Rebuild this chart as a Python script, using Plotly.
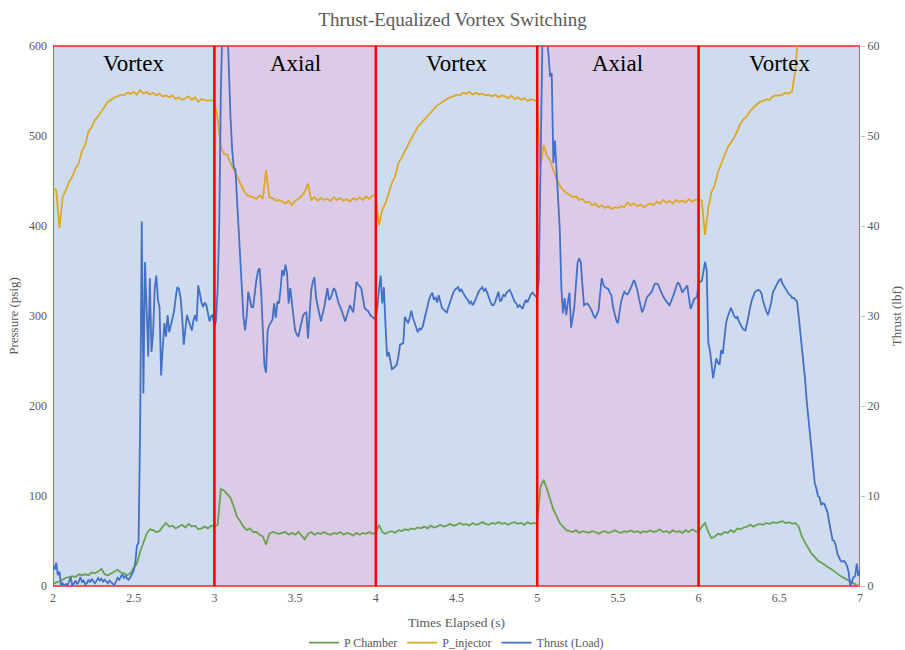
import numpy as np
import plotly.graph_objects as go

# Time grids (s)
t_p = np.round(np.linspace(2.0, 7.0, 251), 2)   # pressure sampling, 0.02 s
t_f = np.round(np.linspace(2.0, 7.0, 501), 2)   # thrust sampling, 0.01 s

p_chamber = [
    2, 4, 5, 7, 9,   10, 11, 10, 13, 12,   13, 12, 15, 14, 16,   19, 13, 12, 14, 16,
    18, 15, 14, 12, 14,   20, 25, 38, 48, 58,   63, 62, 60, 61, 66,   70, 66, 67, 64, 66,
    68, 65, 69, 66, 67,   63, 64, 66, 64, 67,
    66, 68, 108, 106, 102,   98, 88, 77, 72, 66,   62, 64, 60, 60, 57,   55, 46, 58, 60, 59,
    58, 59, 60, 57, 59,   57, 60, 56, 52, 58,   60, 57, 59, 58, 60,   58, 57, 59, 58, 60,
    57, 59, 58, 56, 59,   57, 59, 58, 60, 58,
    59, 68, 60, 58, 60,   61, 59, 62, 61, 63,   62, 64, 63, 65, 64,   66, 64, 67, 65, 66,
    68, 66, 67, 69, 67,   68, 70, 68, 69, 67,   70, 68, 69, 71, 69,   68, 70, 69, 71, 69,
    70, 68, 70, 71, 69,   70, 68, 71, 69, 70,
    69, 110, 118, 108, 95,   85, 78, 70, 66, 62,   61, 60, 62, 59, 61,   60, 59, 61, 60, 58,
    60, 61, 59, 60, 62,   60, 59, 61, 60, 62,   60, 61, 59, 61, 60,   62, 60, 61, 63, 60,
    61, 59, 62, 60, 61,   59, 62, 60, 63, 61,
    60, 66, 70, 60, 53,   55, 58, 57, 60, 59,   62, 60, 64, 63, 65,   66, 68, 66, 68, 69,
    68, 70, 69, 71, 70,   71, 72, 70, 71, 69,   70, 66, 55, 48, 42,   36, 32, 28, 26, 23,
    21, 19, 16, 14, 11,   9, 7, 5, 3, 1,
    0,
]

p_injector = [
    442, 440, 398, 432, 440,   449, 455, 464, 470, 484,   490, 505, 510, 518, 522,   527, 533, 538, 540, 543,
    544, 546, 545, 548, 547,   549, 546, 551, 547, 549,   546, 548, 545, 547, 544,   545, 543, 545, 541, 543,
    540, 542, 544, 540, 543,   538, 541, 540, 539, 540,
    538, 520, 488, 480, 479,   470, 462, 455, 448, 440,   435, 433, 432, 430, 434,   430, 462, 432, 431, 428,
    429, 427, 425, 428, 423,   428, 430, 433, 438, 447,   429, 432, 428, 431, 429,   430, 428, 432, 429, 431,
    428, 430, 427, 431, 429,   432, 429, 433, 430, 434,
    433, 401, 418, 425, 438,   448, 455, 470, 476, 484,   490, 497, 503, 510, 514,   518, 523, 527, 530, 534,
    536, 539, 541, 543, 544,   546, 545, 548, 547, 549,   546, 548, 546, 547, 545,   546, 544, 546, 543, 545,
    544, 542, 545, 541, 543,   540, 542, 539, 541, 540,
    538, 466, 490, 478, 473,   462, 452, 445, 440, 437,   434, 432, 433, 429, 430,   426, 427, 423, 425, 421,
    423, 420, 422, 419, 421,   420, 422, 421, 426, 423,   425, 422, 424, 421, 423,   425, 423, 427, 425, 429,
    426, 428, 425, 429, 427,   428, 426, 430, 427, 429,
    430, 428, 390, 420, 438,   445, 460, 470, 478, 487,   492, 498, 506, 514, 519,   522, 528, 532, 535, 538,
    539, 541, 540, 544, 545,   545, 546, 548, 547, 550,   575, 620, 660, None, None,   None, None, None, None, None,
    None, None, None, None, None,   None, None, None, None, None,
    None,
]

thrust = [
    2.3, 1.8, 2.6, 1.2, 1.6, 0.1, 0.3, 0.0, 0.2, 0.1,
    0.5, 1.0, 0.0, 0.3, 0.6, 0.2, 0.5, 1.0, 0.4, 0.6,
    0.2, 0.3, 0.7, 0.4, 0.8, 0.5, 0.3, 0.6, 0.9, 0.6,
    0.8, 0.5, 0.7, 0.5, 0.3, 0.6, 0.4, 0.2, 0.1, 0.5,
    0.9, 0.7, 1.1, 1.3, 0.9, 1.1, 0.8, 0.7, 1.0, 1.3,
    1.7, 2.6, 4.5, 4.8, 18.0, 40.5, 21.4, 36.0, 30.5, 25.5,
    34.2, 26.0, 28.0, 33.0, 34.5, 31.8, 31.0, 23.4, 26.5, 29.2,
    27.7, 30.1, 28.2, 29.0, 29.9, 30.5, 32.0, 33.2, 33.0, 32.1,
    30.0, 26.8, 28.5, 30.1, 29.5, 28.8, 28.4, 29.5, 30.1, 29.4,
    33.4, 32.5, 31.5, 31.0, 31.5, 31.2, 30.3, 29.4, 30.0, 30.1,
    28.7, 29.5, 33.0, 40.0, 55.0, 65.0, 70.0, 68.0, 62.0, 57.0,
    52.0, 48.5, 46.5, 46.3, 43.0, 39.5, 35.5, 32.9, 29.9, 28.4,
    30.0, 32.7, 31.8, 31.0, 31.0, 32.6, 34.0, 35.0, 35.3, 32.6,
    28.0, 24.5, 23.7, 28.4, 29.0, 29.3, 29.6, 31.4, 29.8, 31.6,
    31.4, 33.0, 35.1, 34.5, 35.7, 34.8, 31.4, 33.1, 31.5, 29.8,
    28.4, 28.0, 27.7, 28.5, 29.5, 30.1, 30.3, 30.4, 27.5, 30.0,
    32.9, 33.8, 34.3, 32.0, 31.0, 30.0, 29.4, 30.2, 30.9, 32.0,
    33.1, 31.8, 32.0, 32.5, 33.1, 32.8, 32.0, 31.4, 31.0, 30.6,
    30.0, 29.4, 30.1, 30.6, 31.2, 30.8, 30.4, 32.0, 33.8, 33.5,
    33.3, 33.1, 32.0, 30.9, 30.7, 30.6, 30.3, 30.0, 29.9, 29.7,
    29.8, 31.0, 33.0, 34.5, 31.4, 33.2, 29.0, 25.5, 26.0, 25.0,
    24.1, 24.2, 24.4, 24.6, 25.5, 26.8, 26.9, 27.0, 29.9, 29.5,
    29.2, 29.8, 30.6, 29.8, 29.2, 28.6, 28.2, 28.6, 28.5, 28.8,
    29.6, 30.4, 31.0, 31.8, 32.3, 32.6, 31.8, 32.1, 31.5, 32.3,
    31.6, 30.9, 30.7, 30.5, 30.4, 31.0, 31.6, 32.1, 32.6, 32.9,
    33.1, 33.2, 32.7, 33.0, 32.6, 32.2, 32.0, 31.8, 31.4, 31.6,
    31.2, 31.5, 32.0, 32.4, 32.8, 33.0, 33.2, 32.8, 33.0, 32.6,
    32.0, 31.6, 31.2, 31.2, 31.6, 32.2, 32.7, 31.6, 31.8, 32.4,
    32.2, 32.6, 32.8, 32.9, 32.5, 32.0, 31.6, 31.4, 31.0, 31.2,
    31.0, 30.8, 31.4, 31.8, 31.5, 32.0, 32.4, 32.6, 32.4, 32.1,
    32.0, 34.0, 45.0, 62.0, 70.0, 66.0, 61.0, 59.0, 56.6, 57.0,
    47.0, 49.5, 46.0, 43.0, 39.5, 33.0, 30.3, 32.0, 30.1, 31.5,
    32.6, 28.7, 30.0, 31.0, 33.5, 35.9, 36.4, 36.0, 33.5, 31.2,
    31.3, 31.4, 31.2, 30.9, 30.5, 30.0, 29.8, 30.2, 30.6, 32.5,
    34.2, 33.5, 33.2, 33.1, 33.0, 32.6, 32.3, 31.0, 30.1, 29.5,
    29.2, 30.5, 31.6, 32.2, 32.7, 32.5, 32.4, 32.7, 33.2, 33.7,
    34.0, 33.5, 32.9, 32.0, 31.0, 30.4, 30.8, 31.5, 32.1, 32.3,
    32.5, 32.7, 33.2, 33.6, 33.6, 33.5, 33.0, 32.5, 32.2, 31.9,
    31.6, 31.4, 31.2, 31.6, 32.1, 32.6, 33.2, 33.7, 33.6, 33.0,
    32.6, 32.9, 33.2, 33.4, 32.0, 30.8, 31.2, 31.8, 32.0, 32.1,
    33.8, 33.8, 33.9, 35.0, 36.0, 35.1, 27.0, 26.2, 24.5, 23.1,
    24.2, 25.3, 24.8, 24.6, 26.2, 25.8, 27.5, 29.2, 29.9, 30.4,
    30.9, 30.5, 30.0, 29.8, 29.9, 29.4, 29.0, 28.7, 28.5, 28.4,
    29.2, 30.3, 31.0, 31.8, 32.3, 32.7, 32.8, 32.9, 32.8, 32.5,
    31.6, 31.0, 30.5, 30.1, 30.8, 31.5, 32.6, 33.0, 33.5, 33.7,
    34.0, 34.1, 33.6, 33.3, 33.0, 32.7, 32.4, 32.3, 32.0, 32.0,
    31.8, 31.6, 30.0, 28.4, 26.6, 24.8, 22.9, 20.5, 18.4, 16.7,
    15.1, 13.2, 11.4, 10.8, 10.0, 9.8, 9.0, 9.2, 9.1, 8.6,
    8.1, 7.0, 5.8, 5.1, 5.0, 4.5, 3.6, 3.1, 2.8, 2.7,
    2.8, 2.6, 2.2, 1.5, 0.0, 0.5, 1.0, 1.1, 2.5, 1.1,
    1.8,
]

assert len(p_chamber) == len(t_p), len(p_chamber)
assert len(p_injector) == len(t_p), len(p_injector)
assert len(thrust) == len(t_f), len(thrust)

# Mode regions
region_names = ["Vortex", "Axial", "Vortex", "Axial", "Vortex"]
region_starts = [2, 3, 4, 5, 6]
region_ends = [3, 4, 5, 6, 7]
region_colors = {"Vortex": "#cfdcef", "Axial": "#dccbe6"}
switch_times = [3, 4, 5, 6]

FONT = "Liberation Serif, Times New Roman, serif"
GREY = "#595959"

fig = go.Figure()
fig.add_trace(go.Scatter(x=t_p, y=p_chamber, name="P Chamber", mode="lines",
                         line=dict(color="#6aa150", width=1.8)))
fig.add_trace(go.Scatter(x=t_p, y=p_injector, name="P_injector", mode="lines",
                         line=dict(color="#dca82a", width=1.8)))
fig.add_trace(go.Scatter(x=t_f, y=thrust, name="Thrust (Load)", mode="lines", yaxis="y2",
                         line=dict(color="#4470c6", width=1.8)))

for name, x0, x1 in zip(region_names, region_starts, region_ends):
    fig.add_shape(type="rect", xref="x", yref="paper", x0=x0, x1=x1, y0=0, y1=1,
                  fillcolor=region_colors[name], line=dict(color="#ff2020", width=1.5),
                  layer="below")
    fig.add_annotation(x=(x0 + x1) / 2, y=0.968, xref="x", yref="paper", text=name,
                       showarrow=False, font=dict(family=FONT, size=23, color="#000000"),
                       yanchor="middle")
for xs in switch_times:
    fig.add_shape(type="line", xref="x", yref="paper", x0=xs, x1=xs, y0=0, y1=1,
                  line=dict(color="#ff0000", width=2.5), layer="above")

fig.update_layout(
    width=905, height=650,
    margin=dict(l=53, r=45, t=46, b=64, autoexpand=False),
    paper_bgcolor="white", plot_bgcolor="white",
    title=dict(text="Thrust-Equalized Vortex Switching", x=0.5, xanchor="center",
               y=1 - 19 / 650, yanchor="middle",
               font=dict(family=FONT, size=19, color=GREY)),
    font=dict(family=FONT, size=12, color=GREY),
    showlegend=True,
    legend=dict(orientation="h", x=0.5, xanchor="center", y=-0.105, yanchor="middle",
                font=dict(family=FONT, size=12, color=GREY), bgcolor="rgba(0,0,0,0)"),
    xaxis=dict(range=[2, 7], dtick=0.5, tick0=2, showgrid=False, zeroline=False,
               showline=False, ticks="", automargin=False, ticklabelstandoff=3,
               tickfont=dict(family=FONT, size=12, color=GREY),
               title=dict(text="Times Elapsed (s)", standoff=13,
                          font=dict(family=FONT, size=13.5, color=GREY))),
    yaxis=dict(range=[0, 600], dtick=100, showgrid=False, zeroline=False, showline=False,
               ticks="", automargin=False, ticklabelstandoff=5,
               tickfont=dict(family=FONT, size=12, color=GREY),
               title=dict(text="Pressure (psig)", standoff=7,
                          font=dict(family=FONT, size=13, color=GREY))),
    yaxis2=dict(range=[0, 60], dtick=10, overlaying="y", side="right", showgrid=False,
                zeroline=False, showline=False, ticks="outside", ticklen=4,
                tickcolor="#bfbfbf", automargin=False,
                tickfont=dict(family=FONT, size=12, color=GREY),
                title=dict(text="Thrust (lbf)", standoff=13,
                           font=dict(family=FONT, size=13, color=GREY))),
)

fig.write_html("out.html", config={"displayModeBar": False},
               post_script="document.body.style.margin='0';document.body.style.padding='0';")
